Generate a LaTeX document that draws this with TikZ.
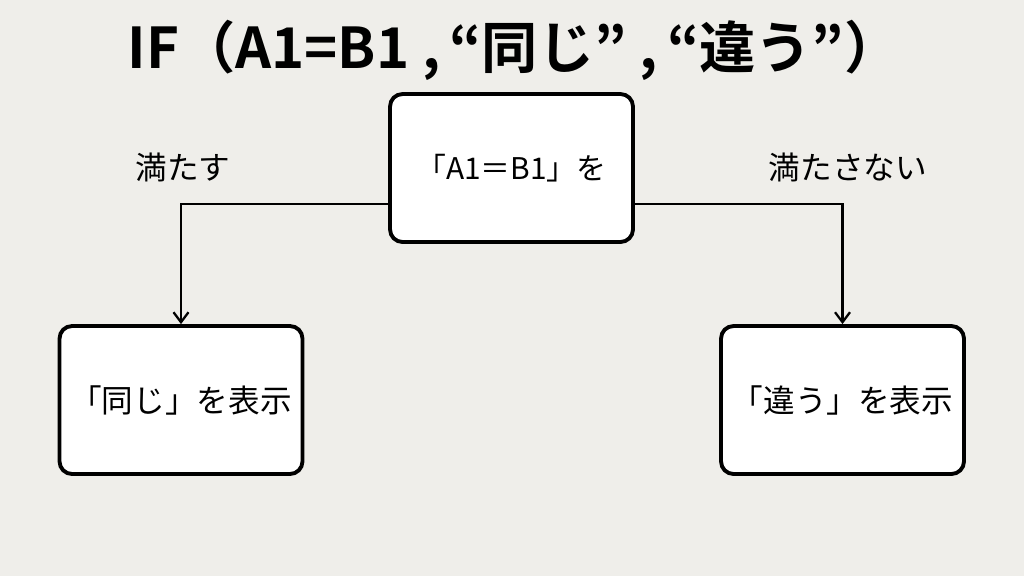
\documentclass[tikz,border=0pt]{standalone}
\usepackage{fontspec}
\setmainfont{Noto Sans CJK JP}[BoldFont={* Bold}]
\usetikzlibrary{arrows.meta}
\definecolor{bggray}{HTML}{EFEEEA}

\begin{document}
\begin{tikzpicture}[
  x=0.02cm, y=-0.02cm,
  box/.style={rectangle, draw, fill=white, line width=2.2pt, rounded corners=0.25cm, minimum width=4.86cm, minimum height=2.96cm, align=center, font=\fontsize{18}{21}\selectfont},
  cond/.style={font=\fontsize{18}{21}\selectfont},
  link/.style={-{Straight Barb[length=2mm,width=3mm]}, line width=1.3pt}
]
\fill[bggray] (0,0) rectangle (1024,576);
\useasboundingbox (0,0) rectangle (1024,576);

\node[font=\bfseries\fontsize{32}{37}\selectfont] (title) at (514,50) {IF（A1=B1 ,\,“同じ” ,\,“違う”）};

\node[box, font=\fontsize{17}{20}\selectfont] (check) at (511.5,168) {「A1＝B1」を};
\node[box] (same) at (181,400) {「同じ」を表示};
\node[box] (diff) at (842.5,400) {「違う」を表示};

\node[cond] (yes) at (183,167) {満たす};
\node[cond] (no) at (848,167) {満たさない};

% Connessioni
\draw[link] ([yshift=-0.72cm]check.west) -| (same.north);
\draw[link] ([yshift=-0.72cm]check.east) -| (diff.north);

\end{tikzpicture}
\end{document}
